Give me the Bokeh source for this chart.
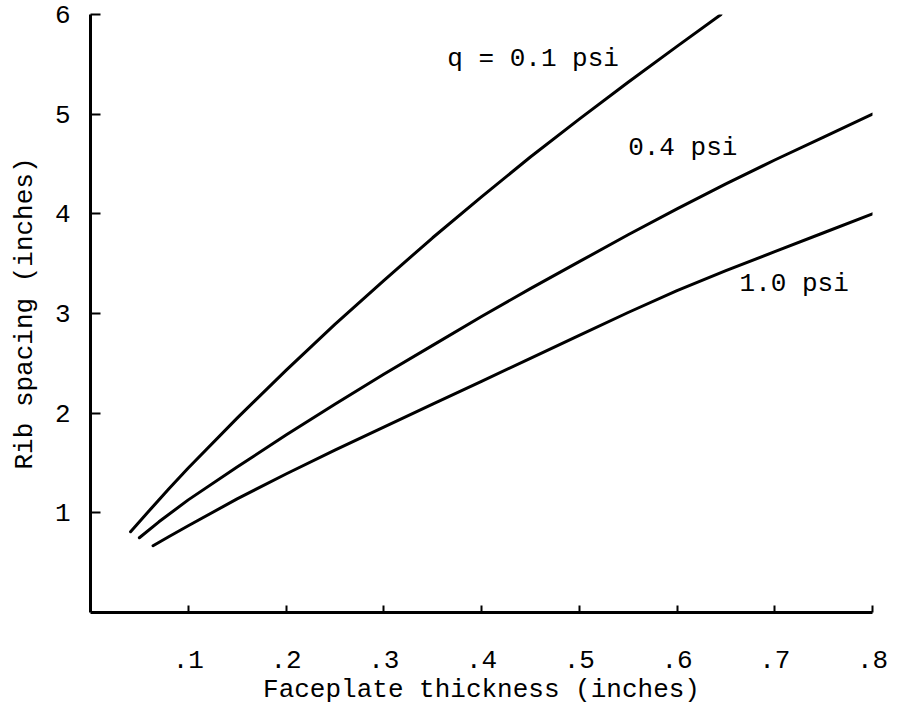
from bokeh.plotting import figure
from bokeh.models import Range1d, FixedTicker, ColumnDataSource
from bokeh.core.properties import value
from bokeh.embed import file_html
from bokeh.resources import INLINE

# ---- data ----
x_q01 = [0.041, 0.06, 0.08, 0.10, 0.15, 0.20, 0.25, 0.30, 0.35, 0.40, 0.45, 0.50, 0.55, 0.60, 0.645]
y_q01 = [0.81, 1.02, 1.24, 1.45, 1.95, 2.43, 2.89, 3.33, 3.76, 4.17, 4.57, 4.95, 5.32, 5.68, 6.00]

x_q04 = [0.050, 0.07, 0.10, 0.15, 0.20, 0.25, 0.30, 0.35, 0.40, 0.45, 0.50, 0.55, 0.60, 0.65, 0.70, 0.75, 0.80]
y_q04 = [0.75, 0.91, 1.13, 1.46, 1.78, 2.09, 2.39, 2.68, 2.97, 3.25, 3.52, 3.79, 4.05, 4.30, 4.54, 4.77, 5.00]

x_q10 = [0.064, 0.08, 0.10, 0.15, 0.20, 0.25, 0.30, 0.35, 0.40, 0.45, 0.50, 0.55, 0.60, 0.65, 0.70, 0.75, 0.80, 0.812]
y_q10 = [0.67, 0.76, 0.87, 1.14, 1.39, 1.63, 1.86, 2.09, 2.32, 2.55, 2.78, 3.01, 3.23, 3.43, 3.62, 3.81, 4.00, 4.04]

label_text = ["q = 0.1 psi", "0.4 psi", "1.0 psi"]
label_x = [0.365, 0.55, 0.664]
label_y = [5.55, 4.66, 3.30]

x_ticks = [0.1, 0.2, 0.3, 0.4, 0.5, 0.6, 0.7, 0.8]
x_tick_labels = [".1", ".2", ".3", ".4", ".5", ".6", ".7", ".8"]
y_ticks = [1, 2, 3, 4, 5, 6]

FONT = "Liberation Mono"

p = figure(width=890, height=707, output_backend="svg", toolbar_location=None,
           x_range=Range1d(0, 0.8), y_range=Range1d(0, 6),
           min_border_left=90, min_border_right=18, min_border_top=14, min_border_bottom=95)
p.outline_line_color = None
p.xgrid.visible = False
p.ygrid.visible = False
p.background_fill_color = "white"
p.border_fill_color = "white"

for ax in (p.xaxis[0], p.yaxis[0]):
    ax.axis_line_width = 3
    ax.axis_line_color = "black"
    ax.major_tick_line_width = 2
    ax.major_tick_line_color = "black"
    ax.major_tick_out = 0
    ax.minor_tick_line_color = None
    ax.major_label_text_font = FONT
    ax.major_label_text_font_size = "26px"
    ax.major_label_text_color = "black"
    ax.axis_label_text_font = FONT
    ax.axis_label_text_font_size = "26px"
    ax.axis_label_text_font_style = "normal"
    ax.axis_label_text_color = "black"

p.xaxis.ticker = FixedTicker(ticks=x_ticks)
p.xaxis.major_label_overrides = {t: l for t, l in zip(x_ticks, x_tick_labels)}
p.xaxis.major_tick_in = 7
p.xaxis.major_label_standoff = 38
p.xaxis.axis_label = "Faceplate thickness (inches)"
p.xaxis.axis_label_standoff = 4

p.yaxis.ticker = FixedTicker(ticks=y_ticks)
p.yaxis.major_tick_in = 10
p.yaxis.major_label_standoff = 20
p.yaxis.axis_label = "Rib spacing (inches)"
p.yaxis.axis_label_standoff = 12

for xs, ys in ((x_q01, y_q01), (x_q04, y_q04), (x_q10, y_q10)):
    p.line(xs, ys, line_color="black", line_width=3, line_cap="round", line_join="round")

src = ColumnDataSource(dict(x=label_x, y=label_y, text=label_text))
p.text(x="x", y="y", text="text", source=src, text_font=value(FONT),
       text_font_size="26px", text_baseline="middle", text_align="left", text_color="black")

open("out.html", "w").write(file_html(p, INLINE))
